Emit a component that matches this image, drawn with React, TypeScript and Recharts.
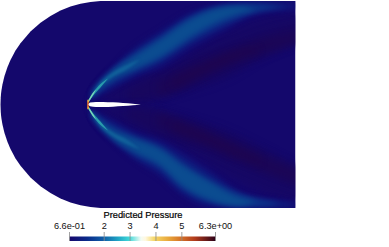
import React from 'react';
import { ComposedChart, Area, XAxis, YAxis, ReferenceLine } from 'recharts';

type Band = number[][]; // [x, y0, y1], measured from the leading edge

// far field boundary (half height of the domain)
const hullX = [-87.5, -87.25, -87, -86.5, -85.5, -83.5, -80.5, -77.5, -72.5, -67.5, -57.5, -47.5, -37.5, -27.5, -17.5, -7.5, 2.5, 12.5, 16, 207.5];
const hullHalf = [0, 7.2, 10.2, 14.4, 20.2, 28.5, 37.4, 44.4, 54, 61.2, 72.9, 81.7, 88.6, 93.9, 97.9, 100.8, 102.6, 103.4, 103.5, 103.5];

const airfoil: Band = [[0.5, -0.6, 0.6], [2, -1.8, 2], [8, -2.5, 2.6], [15, -2.5, 2.6], [25, -2.2, 2.2], [35, -1.6, 1.6], [45, -0.8, 0.8], [53, 0, 0]];

// upper shock plume, outermost to innermost pressure level
const upperL1: Band = [[0, 0.5, 3.5], [4, 4.5, 12.5], [10, 8, 21.5], [22, 14, 34.5], [47, 27.5, 58], [72, 36.5, 74.5], [102, 55, 93], [135, 73, 102], [165, 88, 104], [216, 95, 104]];
const upperL2: Band = [[2, 3.5, 6], [4, 6, 12], [10, 10.5, 20.5], [22, 17, 33], [47, 30, 54], [72, 41, 70], [102, 60, 89], [135, 77, 100], [165, 91, 102], [195, 96, 100], [208, 98, 98]];
const upperL3: Band = [[4, 7, 11.5], [10, 13, 20], [22, 21.5, 32], [47, 34, 51], [72, 45, 67], [102, 64, 87], [135, 81, 98], [165, 92, 100], [190, 97, 98], [196, 97.5, 97.5]];
const upperL4: Band = [[4, 8, 11], [10, 14.5, 19], [22, 24, 31], [47, 36, 48], [72, 48, 64], [102, 68, 84], [125, 81, 94], [150, 91, 98], [168, 95, 95]];
const upperL5: Band = [[3, 6, 8], [10, 15.5, 19], [22, 26, 30], [40, 36, 40], [52, 45, 45]];
const upperL6: Band = [[1, 3, 4.5], [6, 10, 13], [12, 16.5, 20], [20, 26, 26]];
const upperL7: Band = [[0, 1, 4], [3, 6, 9], [6, 11, 13], [8, 15, 15]];

// lower shock plume
const lowerL1: Band = [[0, -0.5, -3.5], [4, -4.5, -12.5], [10, -8, -21.5], [22, -14, -34.5], [47, -27, -56], [72, -35.5, -72.5], [95, -48, -92], [122, -66, -104], [155, -88, -104], [216, -98, -104]];
const lowerL2: Band = [[2, -3.5, -6], [4, -6, -12], [10, -10.5, -20.5], [22, -17, -33], [47, -30, -53], [72, -39, -68], [95, -53, -88], [122, -70, -100], [155, -90, -103], [195, -98, -102], [208, -100, -100]];
const lowerL3: Band = [[4, -7, -11.5], [10, -13, -20], [22, -21.5, -32], [47, -33, -50], [72, -43, -63], [95, -59, -84], [122, -76, -97], [155, -91, -102], [180, -97, -101], [192, -99, -99]];
const lowerL4: Band = [[4, -8, -11], [10, -14.5, -19], [22, -24, -31], [47, -35, -47], [72, -45, -60], [95, -62, -81], [122, -78, -95], [150, -93, -101], [168, -97, -97]];
const lowerL5: Band = [[3, -6, -8], [10, -15.5, -19], [22, -26, -30], [40, -36, -40], [52, -45, -45]];
const lowerL6: Band = [[1, -3, -4.5], [6, -10, -13], [12, -16.5, -20], [20, -26, -26]];
const lowerL7: Band = [[0, -1, -4], [3, -6, -9], [6, -11, -13], [8, -15, -15]];

// low pressure wedge behind the upper shock
const upperDark1: Band = [[15, 2, 8], [30, 2.5, 18], [53, 1, 28], [72, 5, 34], [105, 14, 54], [139, 26, 72], [172, 45, 85], [216, 63, 92]];
const upperDark2: Band = [[40, 4, 14], [60, 6, 25], [85, 12, 36], [115, 24, 50], [150, 38, 62], [185, 52, 74], [216, 64, 82]];
const upperDark3: Band = [[70, 9, 22], [90, 16, 32], [115, 28, 42], [150, 43, 56], [185, 56, 67], [216, 65, 73]];
const upperDark4: Band = [[85, 17, 24], [115, 32, 39], [150, 47, 53], [170, 53, 56]];

// and below the lower one
const lowerDark1: Band = [[15, -2, -8], [30, -2.5, -16], [53, -1, -26], [72, -5, -33], [105, -15, -50], [139, -26, -70], [172, -42, -86], [216, -65, -98]];
const lowerDark2: Band = [[40, -4, -13], [60, -6, -24], [85, -12, -34], [115, -22, -45], [150, -36, -60], [185, -52, -74], [216, -66, -86]];
const lowerDark3: Band = [[70, -9, -21], [90, -16, -30], [115, -26, -39], [150, -41, -54], [185, -57, -69], [216, -69, -79]];
const lowerDark4: Band = [[85, -18, -25], [115, -29, -36], [150, -45, -51], [172, -54, -59]];

// stagnation point
const stagnationOrange: Band = [[-0.8, -4, 4], [0, -5, 5], [1, -3.5, 3.5]];
const stagnationRed: Band = [[-0.5, -2, 2], [0.5, -2.5, 2.5], [1, -1, 1]];

// colour bar
const pressureTicks = [0.66, 2, 3, 4, 5, 6.3];
const pressureTickLabels = ['6.6e-01', '2', '3', '4', '5', '6.3e+00'];
const pressureRange = [0.66, 6.3];

const FIELD = '#14086c';

const fieldLayers: { rows: Band; fill: string; filter?: string }[] = [
  { rows: upperDark1, fill: '#160865', filter: 'url(#dark)' },
  { rows: upperDark2, fill: '#18075e', filter: 'url(#dark)' },
  { rows: upperDark3, fill: '#1b0656', filter: 'url(#dark)' },
  { rows: upperDark4, fill: '#1e054f', filter: 'url(#dark)' },
  { rows: lowerDark1, fill: '#160865', filter: 'url(#dark)' },
  { rows: lowerDark2, fill: '#18075e', filter: 'url(#dark)' },
  { rows: lowerDark3, fill: '#1b0656', filter: 'url(#dark)' },
  { rows: lowerDark4, fill: '#1e054f', filter: 'url(#dark)' },
  { rows: upperL1, fill: '#130f74', filter: 'url(#wide)' },
  { rows: upperL2, fill: '#0f2080', filter: 'url(#wide)' },
  { rows: upperL3, fill: '#0c348a', filter: 'url(#wide)' },
  { rows: upperL4, fill: '#0b4c90', filter: 'url(#wide)' },
  { rows: lowerL1, fill: '#130f74', filter: 'url(#wide)' },
  { rows: lowerL2, fill: '#0f2080', filter: 'url(#wide)' },
  { rows: lowerL3, fill: '#0c348a', filter: 'url(#wide)' },
  { rows: lowerL4, fill: '#0b4c90', filter: 'url(#wide)' },
  { rows: upperL5, fill: '#11609a', filter: 'url(#mid)' },
  { rows: upperL6, fill: '#2a9cac', filter: 'url(#thin)' },
  { rows: upperL7, fill: '#7ad8b8', filter: 'url(#thin)' },
  { rows: lowerL5, fill: '#11609a', filter: 'url(#mid)' },
  { rows: lowerL6, fill: '#2a9cac', filter: 'url(#thin)' },
  { rows: lowerL7, fill: '#7ad8b8', filter: 'url(#thin)' },
  { rows: stagnationOrange, fill: '#e8a040', filter: 'url(#thin)' },
  { rows: stagnationRed, fill: '#b83a20', filter: 'url(#thin)' },
];

const toRows = (band: Band) => band.map(([x, y0, y1]) => ({ x, range: [y0, y1] }));

const hullRows = hullX.map((x, i) => ({ x, range: [-hullHalf[i], hullHalf[i]] }));

// white masks so the blurred plumes stop at the domain edge
const maskRight: Band = [[207.5, -142.5, 104.5], [301, -142.5, 104.5]];
const maskTop: Band = [[16, 103.5, 104.5], [301, 103.5, 104.5]];
const maskBottom: Band = [[16, -103.5, -142.5], [301, -103.5, -142.5]];

const barRows = pressureRange.map((v) => ({ v, band: [0, 0.5] }));

const App = () => {
  return (
    <div style={{ position: 'absolute', left: 0, top: 0, width: 389, height: 247, background: '#fff' }}>
      <ComposedChart width={389} height={247} margin={{ top: 0, right: 0, bottom: 0, left: 0 }} style={{ position: 'absolute', left: 0, top: 0 }}>
        <defs>
          <filter id="dark" x="-30%" y="-30%" width="160%" height="160%" colorInterpolationFilters="sRGB">
            <feGaussianBlur stdDeviation="3.5" />
          </filter>
          <filter id="wide" x="-20%" y="-20%" width="140%" height="140%" colorInterpolationFilters="sRGB">
            <feGaussianBlur stdDeviation="2.4" />
          </filter>
          <filter id="mid" x="-30%" y="-30%" width="160%" height="160%" colorInterpolationFilters="sRGB">
            <feGaussianBlur stdDeviation="1.3" />
          </filter>
          <filter id="thin" x="-30%" y="-30%" width="160%" height="160%" colorInterpolationFilters="sRGB">
            <feGaussianBlur stdDeviation="0.6" />
          </filter>
        </defs>
        <XAxis dataKey="x" type="number" domain={[-88, 301]} allowDataOverflow hide />
        <YAxis type="number" domain={[-142.5, 104.5]} allowDataOverflow hide />
        <Area data={hullRows} dataKey="range" type="linear" fill={FIELD} fillOpacity={1} stroke="none" dot={false} activeDot={false} isAnimationActive={false} />
        {fieldLayers.map((layer, i) => (
          <Area
            key={i}
            data={toRows(layer.rows)}
            dataKey="range"
            type="monotone"
            fill={layer.fill}
            fillOpacity={1}
            stroke="none"
            filter={layer.filter}
            dot={false}
            activeDot={false}
            isAnimationActive={false}
          />
        ))}
        <Area data={toRows(airfoil)} dataKey="range" type="monotone" fill="#ffffff" fillOpacity={1} stroke="none" dot={false} activeDot={false} isAnimationActive={false} />
        {[maskRight, maskTop, maskBottom].map((mask, i) => (
          <Area key={i} data={toRows(mask)} dataKey="range" type="linear" fill="#ffffff" fillOpacity={1} stroke="none" dot={false} activeDot={false} isAnimationActive={false} />
        ))}
      </ComposedChart>

      <ComposedChart width={389} height={247} margin={{ top: 220, right: 173.5, bottom: 6, left: 69.5 }} style={{ position: 'absolute', left: 0, top: 0 }}>
        <defs>
          <linearGradient id="pressureRamp" x1="0" y1="0" x2="1" y2="0">
            <stop offset="0" stopColor="#17086c" />
            <stop offset="0.12" stopColor="#0a2a8a" />
            <stop offset="0.23" stopColor="#0f5ca6" />
            <stop offset="0.33" stopColor="#1fa3c4" />
            <stop offset="0.41" stopColor="#40d8d8" />
            <stop offset="0.49" stopColor="#f4fbf4" />
            <stop offset="0.52" stopColor="#fff8e0" />
            <stop offset="0.58" stopColor="#f6d868" />
            <stop offset="0.68" stopColor="#e8a63a" />
            <stop offset="0.76" stopColor="#d67428" />
            <stop offset="0.86" stopColor="#b03a1c" />
            <stop offset="1" stopColor="#2c0018" />
          </linearGradient>
        </defs>
        <XAxis
          dataKey="v"
          type="number"
          orientation="top"
          domain={pressureRange}
          ticks={pressureTicks}
          interval={0}
          axisLine={false}
          tickSize={0}
          tickMargin={3}
          tickFormatter={(v: number) => pressureTickLabels[pressureTicks.indexOf(v)]}
          tick={{ fontFamily: 'Liberation Sans', fontSize: 9.2, fill: '#111' }}
          height={12}
        />
        <YAxis type="number" domain={[0, 1]} hide />
        <Area data={barRows} dataKey="band" type="linear" fill="url(#pressureRamp)" fillOpacity={1} stroke="none" dot={false} activeDot={false} isAnimationActive={false} />
        {pressureTicks.map((v) => (
          <ReferenceLine key={v} x={v} stroke="#8a8a8a" strokeWidth={0.8} ifOverflow="visible" />
        ))}
        <text x={143} y={218} textAnchor="middle" fontFamily="Liberation Sans" fontSize={9.3} fill="#000" stroke="#000" strokeWidth={0.2}>
          Predicted Pressure
        </text>
      </ComposedChart>
    </div>
  );
};

export default App;
